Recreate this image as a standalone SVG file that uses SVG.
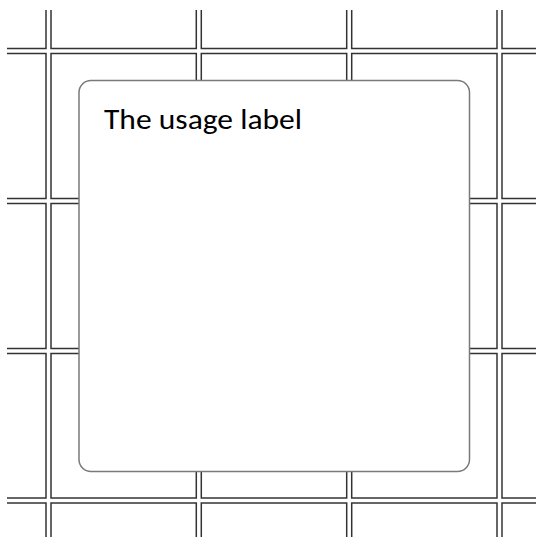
<svg xmlns="http://www.w3.org/2000/svg" width="536" height="537" viewBox="0 0 536 537">
<style>
.outer{stroke:#333;stroke-width:6.5;fill:none;stroke-linecap:butt}
.inner{stroke:#fff;stroke-width:3.5;fill:none;stroke-linecap:butt}
.node{fill:#fff;stroke:#7a7a7a;stroke-width:1.5}
.label{font-family:Carlito,Calibri,Lato,"Open Sans",sans-serif;font-size:29px;fill:#000}
</style>
<rect width="536" height="537" fill="#fff"/>
<g id="grid">
<g class="outer">
<line x1="48.5" y1="10" x2="48.5" y2="537"/>
<line x1="198.8" y1="10" x2="198.8" y2="537"/>
<line x1="349.2" y1="10" x2="349.2" y2="537"/>
<line x1="499.5" y1="10" x2="499.5" y2="537"/>
<line x1="7" y1="51" x2="536" y2="51"/>
<line x1="7" y1="201" x2="536" y2="201"/>
<line x1="7" y1="351" x2="536" y2="351"/>
<line x1="7" y1="500.5" x2="536" y2="500.5"/>
</g>
<g class="inner">
<line x1="48.5" y1="9" x2="48.5" y2="537"/>
<line x1="198.8" y1="9" x2="198.8" y2="537"/>
<line x1="349.2" y1="9" x2="349.2" y2="537"/>
<line x1="499.5" y1="9" x2="499.5" y2="537"/>
<line x1="6" y1="51" x2="536" y2="51"/>
<line x1="6" y1="201" x2="536" y2="201"/>
<line x1="6" y1="351" x2="536" y2="351"/>
<line x1="6" y1="500.5" x2="536" y2="500.5"/>
</g>
</g>
<g id="usage">
<rect class="node" x="79" y="80.5" width="390.5" height="391" rx="12" ry="12"/>
<text class="label" x="104" y="129" textLength="198" lengthAdjust="spacingAndGlyphs">The usage label</text>
</g>
</svg>
